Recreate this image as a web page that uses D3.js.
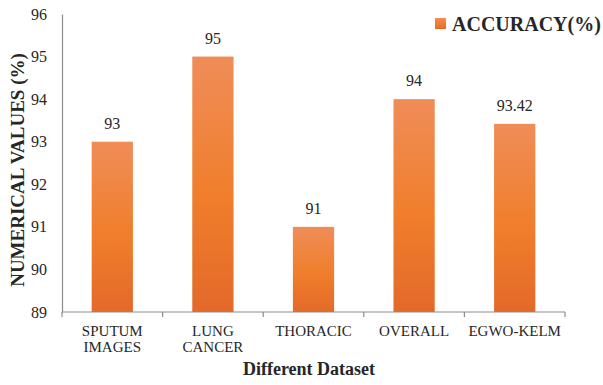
<!DOCTYPE html>
<html>
<head>
<meta charset="utf-8">
<script src="https://cdn.jsdelivr.net/npm/d3@7"></script>
<style>
  html, body { margin: 0; padding: 0; background: #fff; }
  svg { display: block; }
  svg text { font-family: "Liberation Serif", "Times New Roman", serif !important; fill: #262626; }
</style>
</head>
<body>
<svg id="chart" width="603" height="385"></svg>
<script>
// Accuracy per dataset
const categories = [["SPUTUM", "IMAGES"], ["LUNG", "CANCER"], ["THORACIC"], ["OVERALL"], ["EGWO-KELM"]];
const accuracy = [93, 95, 91, 94, 93.42];
const valueLabels = ["93", "95", "91", "94", "93.42"];
const yTicks = [89, 90, 91, 92, 93, 94, 95, 96];
const seriesName = "ACCURACY(%)";

const svg = d3.select("#chart");
const margin = { left: 62, right: 38, top: 14, bottom: 73 };
const W = 603, H = 385;
const plotW = W - margin.left - margin.right;
const plotH = H - margin.top - margin.bottom;

const g = svg.append("g").attr("transform", `translate(${margin.left},${margin.top})`);

const x = d3.scaleBand().domain(d3.range(categories.length)).range([0, plotW]).paddingInner(0.59).paddingOuter(0.295);
const y = d3.scaleLinear().domain([89, 96]).range([plotH, 0]);

// Per-bar vertical gradient
const defs = svg.append("defs");
const grad = defs.append("linearGradient").attr("id", "barGrad")
  .attr("x1", 0).attr("y1", 0).attr("x2", 0).attr("y2", 1);
grad.append("stop").attr("offset", "0%").attr("stop-color", "#ef8d58");
grad.append("stop").attr("offset", "55%").attr("stop-color", "#f07e2b");
grad.append("stop").attr("offset", "100%").attr("stop-color", "#e3692a");

// Bars
g.selectAll("rect.bar").data(accuracy).enter().append("rect")
  .attr("class", "bar")
  .attr("x", (d, i) => x(i))
  .attr("width", x.bandwidth())
  .attr("y", d => y(d))
  .attr("height", d => plotH - y(d))
  .attr("fill", "url(#barGrad)");

// Value labels above bars
g.selectAll("text.val").data(accuracy).enter().append("text")
  .attr("class", "val")
  .attr("x", (d, i) => x(i) + x.bandwidth() / 2)
  .attr("y", d => y(d) - 13)
  .attr("text-anchor", "middle")
  .attr("font-size", 16)
  .text((d, i) => valueLabels[i]);

// Y axis
const yAxis = g.append("g").call(d3.axisLeft(y).tickValues(yTicks).tickSize(0).tickPadding(15).tickFormat(d3.format("d")));
yAxis.attr("font-family", null);
yAxis.select(".domain").attr("stroke", "#8c8c8c").attr("stroke-width", 1.2);
yAxis.selectAll("text").attr("font-size", 16).attr("fill", "#262626");

// X axis: line with ticks at category boundaries
const xAxisG = g.append("g").attr("transform", `translate(0,${plotH})`);
xAxisG.append("line").attr("x1", 0).attr("x2", plotW).attr("y1", 0).attr("y2", 0)
  .attr("stroke", "#8c8c8c").attr("stroke-width", 1.2);
const step = x.step();
const bounds = d3.range(categories.length + 1).map(i => x(0) - x.paddingOuter() * step + i * step);
xAxisG.selectAll("line.tick").data(bounds).enter().append("line")
  .attr("class", "tick")
  .attr("x1", d => d).attr("x2", d => d).attr("y1", 0).attr("y2", 5)
  .attr("stroke", "#8c8c8c").attr("stroke-width", 1.2);

// Category labels
const catG = xAxisG.selectAll("text.cat").data(categories).enter().append("text")
  .attr("class", "cat")
  .attr("text-anchor", "middle")
  .attr("font-size", 15);
catG.selectAll("tspan").data((d, i) => d.map(s => ({ s, i }))).enter().append("tspan")
  .attr("x", d => x(d.i) + x.bandwidth() / 2)
  .attr("y", (d, j) => 24 + j * 16)
  .text(d => d.s);

// Axis titles
svg.append("text")
  .attr("x", 309).attr("y", 375)
  .attr("text-anchor", "middle")
  .attr("font-size", 18).attr("font-weight", "bold")
  .text("Different Dataset");

svg.append("text")
  .attr("transform", "translate(24,170) rotate(-90)")
  .attr("text-anchor", "middle")
  .attr("font-size", 19).attr("font-weight", "bold")
  .text("NUMERICAL VALUES (%)");

// Legend
const leg = svg.append("g").attr("transform", "translate(435,18)");
leg.append("rect").attr("width", 11).attr("height", 11).attr("fill", "url(#barGrad)");
leg.append("text").attr("x", 17).attr("y", 13).attr("font-size", 20).attr("font-weight", "bold")
  .text(seriesName);
</script>
</body>
</html>
